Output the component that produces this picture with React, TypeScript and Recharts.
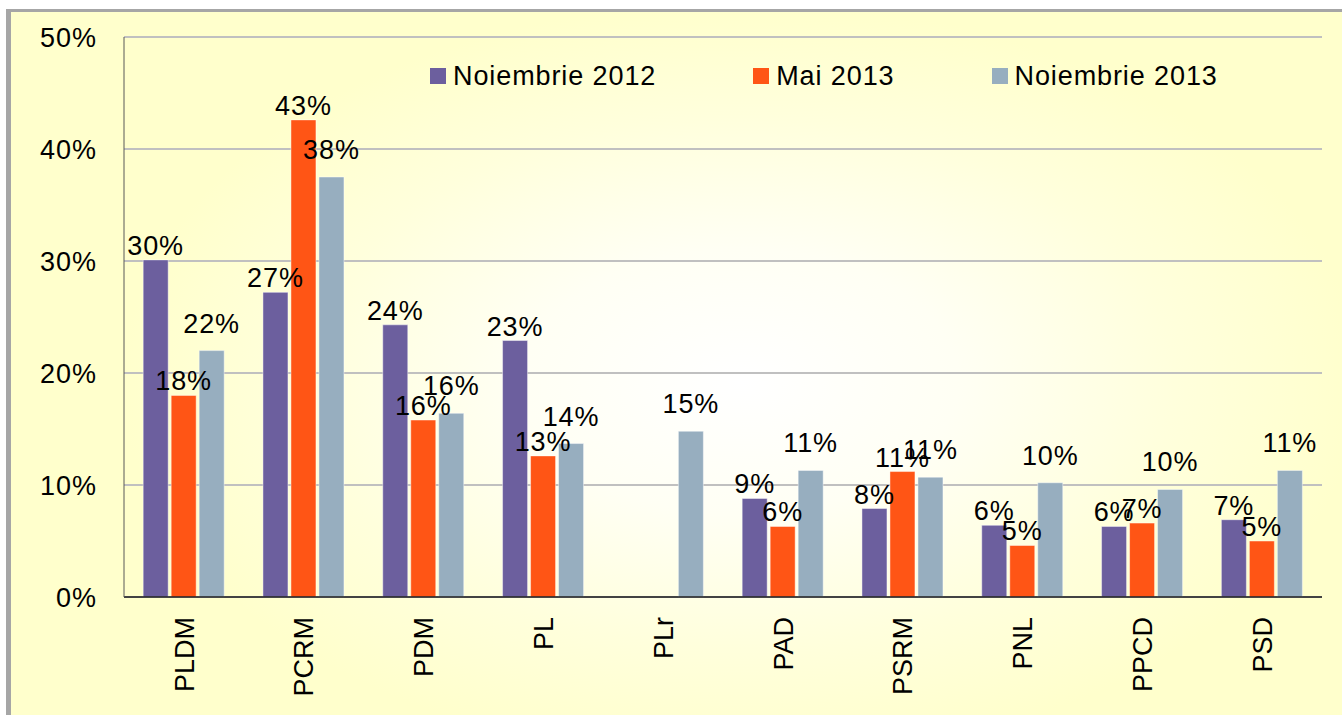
import React from "react";
import {
  BarChart,
  Bar,
  XAxis,
  YAxis,
  CartesianGrid,
  Legend,
  LabelList,
} from "recharts";

const categories = ["PLDM", "PCRM", "PDM", "PL", "PLr", "PAD", "PSRM", "PNL", "PPCD", "PSD"];
const noiembrie2012 = [30.1, 27.2, 24.3, 22.9, null, 8.8, 7.9, 6.4, 6.3, 6.9];
const mai2013 = [18.0, 42.6, 15.8, 12.6, null, 6.3, 11.2, 4.6, 6.6, 5.0];
const noiembrie2013 = [22.0, 37.5, 16.4, 13.7, 14.8, 11.3, 10.7, 10.2, 9.6, 11.3];
const seriesNames = ["Noiembrie 2012", "Mai 2013", "Noiembrie 2013"];
const yTicks = [0, 10, 20, 30, 40, 50];

const data = categories.map((name, i) => ({
  name,
  n2012: noiembrie2012[i],
  m2013: mai2013[i],
  n2013: noiembrie2013[i],
}));

const FONT = "'Liberation Sans', Arial, sans-serif";
const PURPLE = "#6C5F9E";
const ORANGE = "#FF5515";
const GRAY = "#97AEBF";

const pct = (v: any) => (v == null ? "" : `${Math.round(v)}%`);

function CategoryTick({ x, y, payload }: any) {
  return (
    <text
      x={x}
      y={y}
      transform={`rotate(-90 ${x} ${y})`}
      textAnchor="end"
      dy="0.36em"
      fontSize={27}
      fontFamily={FONT}
      fill="#000"
    >
      {payload.value}
    </text>
  );
}

function LegendBox({ payload }: any) {
  // keep the series order, not the alphabetical one
  const items = [...(payload || [])].sort(
    (a: any, b: any) => seriesNames.indexOf(a.value) - seriesNames.indexOf(b.value)
  );
  return (
    <div style={{ display: "flex", alignItems: "center", height: 30, fontFamily: FONT, whiteSpace: "nowrap" }}>
      {items.map((p: any) => (
        <div key={p.value} style={{ display: "flex", alignItems: "center", marginRight: 97 }}>
          <span style={{ width: 16, height: 16, background: p.color, marginRight: 7, display: "inline-block" }} />
          <span style={{ fontSize: 27, lineHeight: "30px", letterSpacing: 0.9, color: "#000" }}>{p.value}</span>
        </div>
      ))}
    </div>
  );
}

const labelStyle = { fontSize: 27, fontFamily: FONT, fill: "#000", letterSpacing: 0.9 };

export default function App() {
  return (
    <div style={{ position: "absolute", left: 0, top: 0, width: 1342, height: 715, background: "#fff", overflow: "hidden" }}>
      <div
        style={{
          position: "absolute",
          left: 6,
          top: 9,
          right: 0,
          bottom: 0,
          borderLeft: "5px solid #A6A6A6",
          borderTop: "3px solid #A6A6A6",
          background:
            "radial-gradient(ellipse 620px 380px at 730px 370px, #FFFFFF 0%, #FFFFF4 35%, #FFFFDC 70%, #FFFFCC 100%)",
        }}
      />
      <div style={{ position: "absolute", left: 0, top: 0 }}>
        <BarChart
          width={1342}
          height={715}
          data={data}
          margin={{ top: 37, right: 20, bottom: 0, left: 0 }}
          barCategoryGap="16%"
          barGap={3}
        >
          <CartesianGrid vertical={false} stroke="#C0C0C0" strokeWidth={2} />
          <XAxis
            dataKey="name"
            height={118}
            tickSize={0}
            tickMargin={20}
            interval={0}
            tick={<CategoryTick />}
            axisLine={{ stroke: "#1A1A1A", strokeWidth: 1.5 }}
          />
          <YAxis
            width={124}
            domain={[0, 50]}
            ticks={yTicks}
            tickFormatter={(v) => `${v}%`}
            tickSize={0}
            tickMargin={27}
            tick={{ fontSize: 27, fontFamily: FONT, fill: "#000", letterSpacing: 1 }}
            axisLine={{ stroke: "#595959", strokeWidth: 1 }}
          />
          <YAxis
            yAxisId="edge"
            orientation="right"
            width={0}
            domain={[0, 50]}
            tick={false}
            tickLine={false}
            axisLine={{ stroke: "#C0C0C0", strokeWidth: 2 }}
          />
          <Legend
            layout="horizontal"
            verticalAlign="middle"
            align="center"
            content={<LegendBox />}
            wrapperStyle={{ top: 61, left: 430, width: "auto" }}
          />
          <Bar dataKey="n2012" name={seriesNames[0]} fill={PURPLE} stroke="rgba(255,255,255,0.45)" strokeWidth={1} isAnimationActive={false}>
            <LabelList dataKey="n2012" position="top" offset={5} formatter={pct} style={labelStyle} />
          </Bar>
          <Bar dataKey="m2013" name={seriesNames[1]} fill={ORANGE} stroke="rgba(255,255,255,0.45)" strokeWidth={1} isAnimationActive={false}>
            <LabelList dataKey="m2013" position="top" offset={5} formatter={pct} style={labelStyle} />
          </Bar>
          <Bar dataKey="n2013" name={seriesNames[2]} fill={GRAY} stroke="rgba(255,255,255,0.45)" strokeWidth={1} isAnimationActive={false}>
            <LabelList dataKey="n2013" position="top" offset={18} formatter={pct} style={labelStyle} />
          </Bar>
        </BarChart>
      </div>
    </div>
  );
}
